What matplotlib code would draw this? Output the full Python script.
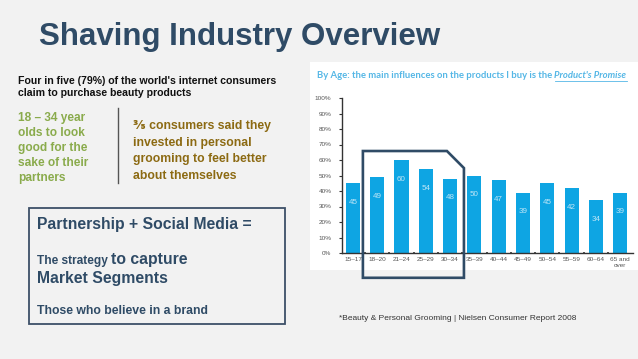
import matplotlib
matplotlib.use("Agg")
import matplotlib.pyplot as plt
from matplotlib.patches import Rectangle, Polygon
from matplotlib.lines import Line2D

plt.rcParams['font.family'] = ['Liberation Sans', 'DejaVu Sans']

W, H = 638, 359

# data
age_groups = ['15–17', '18–20', '21–24', '25–29', '30–34', '35–39', '40–44',
              '45–49', '50–54', '55–59', '60–64', '65 and\nover']
shares = [45, 49, 60, 54, 48, 50, 47, 39, 45, 42, 34, 39]
y_ticks = [0, 10, 20, 30, 40, 50, 60, 70, 80, 90, 100]

navy = '#2f4b66'
bar_blue = '#0ea5e3'
light_blue = '#55b7e6'
green = '#8aab4c'
gold = '#8c6a12'


def fx(px):
    return px / W


def fy(py):
    return 1 - py / H


fig = plt.figure(figsize=(W / 100, H / 100), dpi=100)
fig.patch.set_facecolor('#f2f2f2')

# title
fig.text(fx(39), fy(45), 'Shaving Industry Overview', fontsize=22.5, fontweight='bold',
         color=navy, va='baseline')

# left texts
fig.text(fx(18), fy(84), "Four in five (79%) of the world's internet consumers",
         fontsize=7.6, fontweight='bold', color='#111111', va='baseline')
fig.text(fx(18), fy(96), "claim to purchase beauty products",
         fontsize=7.6, fontweight='bold', color='#111111', va='baseline')

green_lines = ['18 – 34 year', 'olds to look', 'good for the', 'sake of their', 'partners']
for i, s in enumerate(green_lines):
    fig.text(fx(18), fy(121 + i * 15), s, fontsize=8.6, fontweight='bold',
             color=green, va='baseline')

fig.add_artist(Line2D([fx(118), fx(118)], [fy(108), fy(183)], color='#555555', lw=1))

gold_lines = ['⅗ consumers said they', 'invested in personal',
              'grooming to feel better', 'about themselves']
for i, s in enumerate(gold_lines):
    fig.text(fx(133), fy(129 + i * 16.7), s, fontsize=8.8, fontweight='bold',
             color=gold, va='baseline')

# strategy box
fig.add_artist(Rectangle((fx(29), fy(324)), fx(285) - fx(29), fy(208) - fy(324),
                         transform=fig.transFigure, fill=False, ec='#3d5068', lw=1.3))
fig.text(fx(37), fy(229), 'Partnership + Social Media =', fontsize=11.3, fontweight='bold',
         color=navy, va='baseline')
t1 = fig.text(fx(37), fy(264), 'The strategy ', fontsize=8.6, fontweight='bold',
              color=navy, va='baseline')
fig.text(fx(37), fy(283), 'Market Segments', fontsize=11.3, fontweight='bold',
         color=navy, va='baseline')
fig.text(fx(37), fy(314), 'Those who believe in a brand', fontsize=8.8, fontweight='bold',
         color=navy, va='baseline')

# footnote
fig.text(fx(339), fy(320), '*Beauty & Personal Grooming | Nielsen Consumer Report 2008',
         fontsize=6, color='#333333', va='baseline')

# white chart panel
fig.add_artist(Rectangle((fx(310), fy(270)), fx(638) - fx(310), fy(62) - fy(270),
                         transform=fig.transFigure, fc='white', ec='none', zorder=0))

t2 = fig.text(fx(317), fy(78), 'By Age: the main influences on the products I buy is the ',
              fontsize=6.85, fontweight='bold', color=light_blue, va='baseline',
              family=['Lato', 'DejaVu Sans'])

ax = fig.add_axes([fx(342), fy(253), fx(633) - fx(342), fy(98) - fy(253)])
ax.set_facecolor('none')
x = list(range(len(shares)))
ax.bar(x, shares, width=0.58, color=bar_blue, zorder=2)
for xi, v in zip(x, shares):
    ax.text(xi, v - 12.5, str(v), ha='center', va='center', fontsize=5.8,
            color='#bfe6f7', zorder=3)

ax.set_xlim(-0.45, 11.53)
ax.set_ylim(0, 100)
ax.set_yticks(y_ticks)
ax.set_yticklabels([f'{t}%' for t in y_ticks])
ax.set_xticks(x)
ax.set_xticklabels(age_groups)
ax.set_xticks([i + 0.5 for i in x[:-1]], minor=True)
ax.tick_params(axis='x', which='major', length=0, labelsize=4.6, colors='#555555', pad=3)
ax.tick_params(axis='x', which='minor', length=2, width=1.2, color='#333333', direction='inout')
ax.tick_params(axis='y', length=2.5, width=0.8, color='#333333', labelsize=4.6,
               labelcolor='#555555', pad=5)
for side in ['top', 'right']:
    ax.spines[side].set_visible(False)
for side in ['left', 'bottom']:
    ax.spines[side].set_color('#333333')
    ax.spines[side].set_linewidth(1)

# highlight frame around the 18-34 bars
frame = Polygon([(0.41, 65.8), (3.87, 65.8), (4.57, 54.8), (4.57, -16), (0.41, -16)],
                closed=True, fill=False, ec=navy, lw=1.9, clip_on=False, zorder=4)
ax.add_patch(frame)

# text pieces that follow other text
fig.canvas.draw()
r = fig.canvas.get_renderer()
bb1 = t1.get_window_extent(r)
fig.text(bb1.x1 / W, fy(264), 'to capture', fontsize=11.3, fontweight='bold',
         color=navy, va='baseline')
bb2 = t2.get_window_extent(r)
t3 = fig.text(bb2.x1 / W, fy(78), "Product's Promise", fontsize=6.85, fontweight='bold',
              fontstyle='italic', color=light_blue, va='baseline',
              family=['Lato', 'DejaVu Sans'])
fig.canvas.draw()
bb3 = t3.get_window_extent(r)
fig.add_artist(Line2D([bb3.x0 / W, bb3.x1 / W], [fy(80.5), fy(80.5)],
                      color=light_blue, lw=0.6))

fig.savefig('out.png', dpi=100, facecolor=fig.get_facecolor())
